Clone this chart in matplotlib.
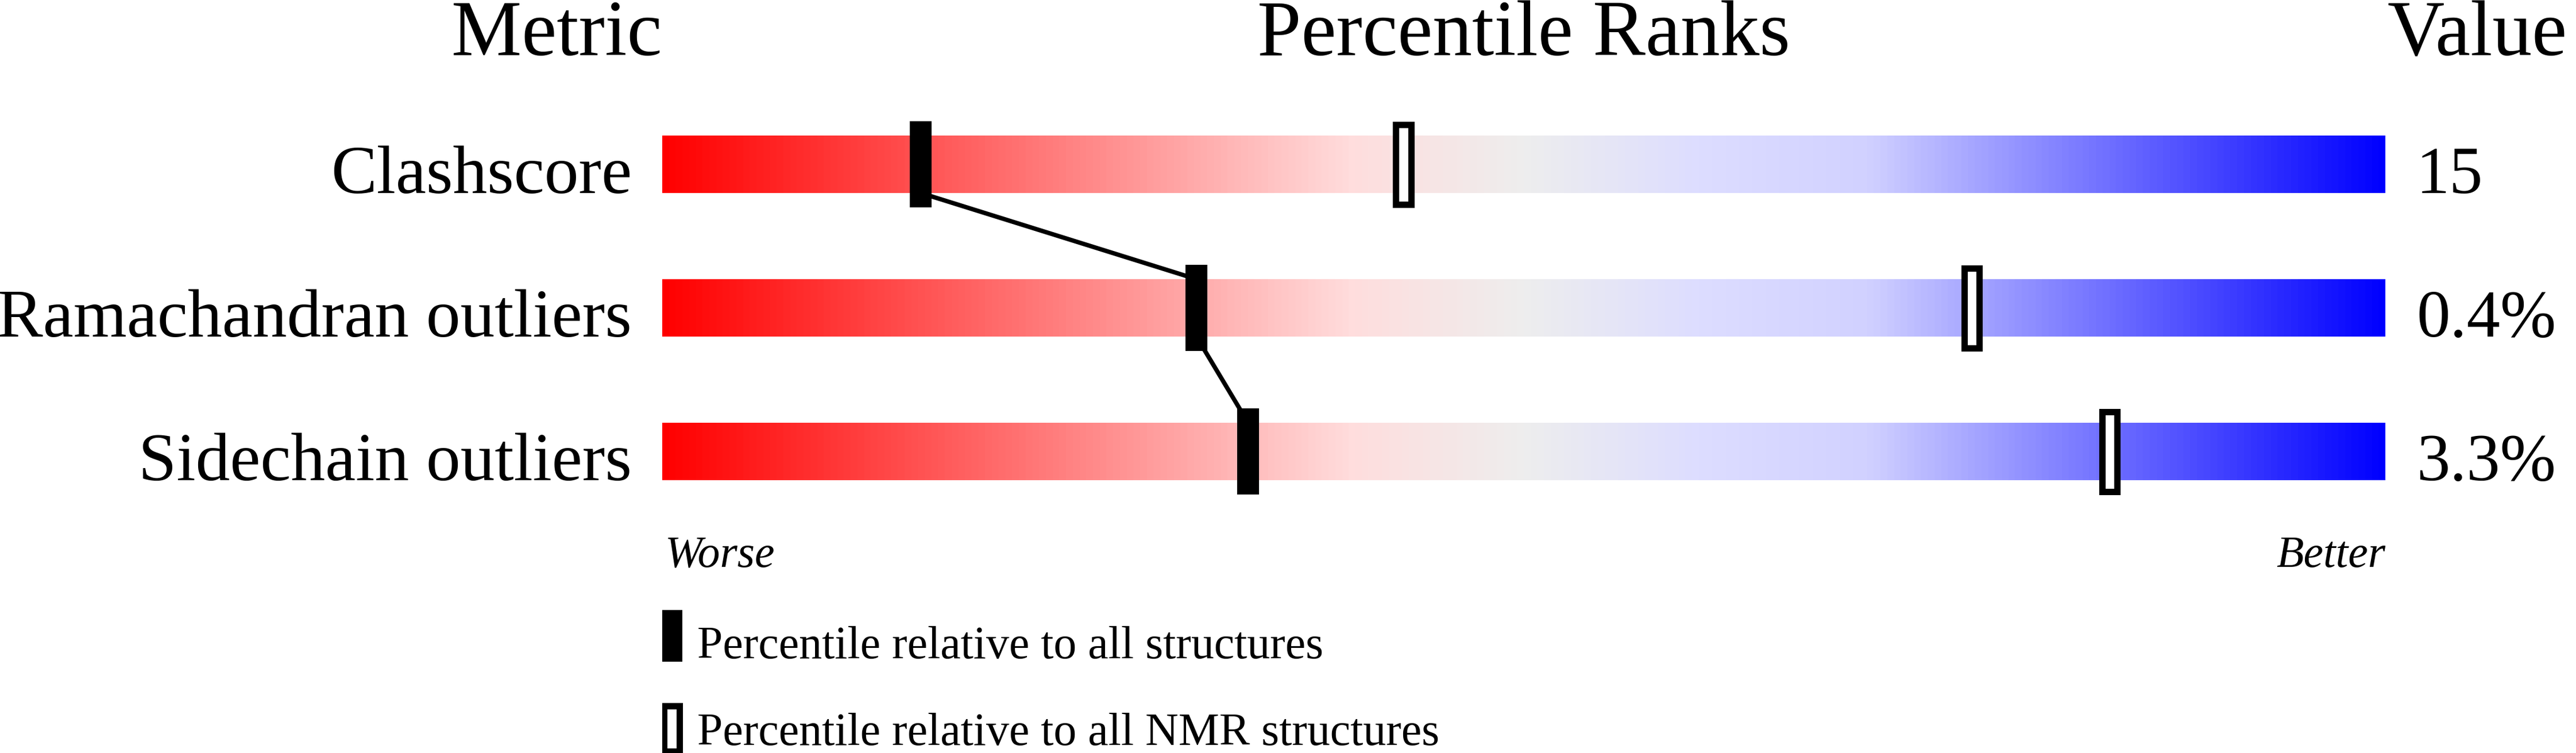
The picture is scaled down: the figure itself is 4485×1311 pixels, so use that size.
import numpy as np
import matplotlib.pyplot as plt
from matplotlib.colors import LinearSegmentedColormap

plt.rcParams['font.family'] = 'serif'
plt.rcParams['font.serif'] = ['Liberation Serif', 'Times New Roman', 'Nimbus Roman',
                              'Noto Serif', 'DejaVu Serif']

# data
metrics = ["Clashscore", "Ramachandran outliers", "Sidechain outliers"]
values = ["15", "0.4%", "3.3%"]
pct_all = [15, 31, 34]      # percentile relative to all structures
pct_nmr = [43, 76, 84]      # percentile relative to all NMR structures

# slider colours, worse (red) -> better (blue)
slider = LinearSegmentedColormap.from_list("slider", [
    (0.00, (1.0, 0.0, 0.0)),
    (0.40, (1.0, 0.867, 0.867)),
    (0.50, (0.933, 0.933, 0.933)),
    (0.60, (0.867, 0.867, 1.0)),
    (0.70, (0.82, 0.82, 1.0)),
    (1.00, (0.0, 0.0, 1.0)),
])

W, H, DPI = 4485, 1311, 100
fig = plt.figure(figsize=(W / DPI, H / DPI), dpi=DPI)
# the axes spans the slider width; x in percentile, y in row units
x0, x1 = 1153 / W, 4153 / W
ax = fig.add_axes([x0, 0, x1 - x0, 1])
ax.set_xlim(0, 100)
ax.set_ylim(4.1, -1.144)
ax.axis("off")

bar_h = 0.4
mark_w = 38 / 30      # marker width in percentile units
mark_h = 0.6
grad = np.linspace(0, 1, 512).reshape(1, -1)

for i, (name, val) in enumerate(zip(metrics, values)):
    ax.imshow(grad, cmap=slider, aspect="auto",
              extent=(0, 100, i + bar_h / 2, i - bar_h / 2), zorder=1)
    ax.text(-1.77, i + bar_h / 2, name, ha="right", va="baseline", fontsize=86)
    ax.text(101.8, i + bar_h / 2, val, ha="left", va="baseline", fontsize=84)

# connecting line between "all structures" markers
for i in range(len(pct_all) - 1):
    ax.plot([pct_all[i], pct_all[i + 1]], [i + bar_h / 2, i + 1 - bar_h / 2],
            color="black", lw=5.5, zorder=2, solid_capstyle="butt")

rows = np.arange(len(metrics))
ax.barh(rows, mark_w, left=np.array(pct_all) - mark_w / 2, height=mark_h,
        color="black", zorder=3)
bw = 11 / 30
ax.barh(rows, mark_w - bw, left=np.array(pct_nmr) - (mark_w - bw) / 2,
        height=mark_h - 0.044, facecolor="white", edgecolor="black",
        linewidth=8, zorder=3)

# headers
ax.text(0, -0.76, "Metric", ha="right", va="baseline", fontsize=99)
ax.text(50, -0.76, "Percentile Ranks", ha="center", va="baseline", fontsize=99)
ax.text(100.1, -0.76, "Value", ha="left", va="baseline", fontsize=99)

ax.text(0.15, 2.804, "Worse", ha="left", va="baseline", fontsize=56, style="italic")
ax.text(100, 2.804, "Better", ha="right", va="baseline", fontsize=56, style="italic")

# legend
ax.barh([3.284], mark_w, left=-0.1, height=0.36, color="black", zorder=3)
ax.text(2.03, 3.44, "Percentile relative to all structures",
        ha="left", va="baseline", fontsize=57.5)
ax.barh([3.93], mark_w - bw, left=-0.1 + bw / 2, height=0.32,
        facecolor="white", edgecolor="black", linewidth=8, zorder=3)
ax.text(2.03, 4.045, "Percentile relative to all NMR structures",
        ha="left", va="baseline", fontsize=57.5)

fig.savefig("out.png", dpi=DPI)
